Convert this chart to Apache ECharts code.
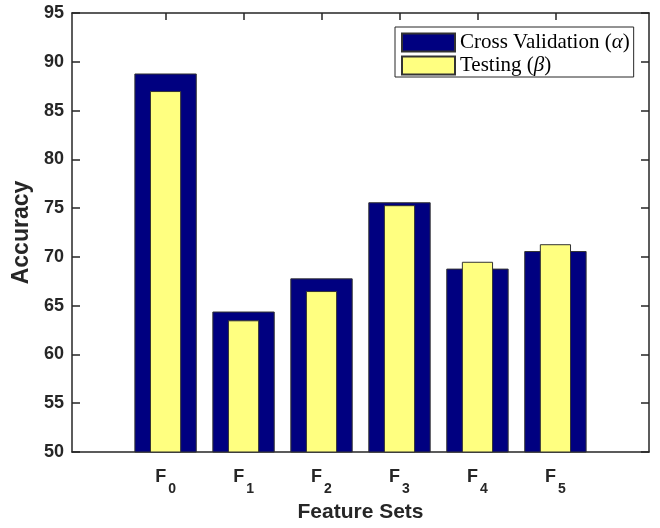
<!DOCTYPE html>
<html>
<head>
<meta charset="utf-8">
<script src="https://cdn.jsdelivr.net/npm/echarts@6/dist/echarts.min.js"></script>
<style>
html,body{margin:0;padding:0;background:#fff;}
#chart{width:660px;height:528px;}
</style>
</head>
<body>
<div id="chart"></div>
<script>
const categories = ['F0', 'F1', 'F2', 'F3', 'F4', 'F5'];
const crossValidation = [88.8, 64.4, 67.8, 75.6, 68.8, 70.6];
const testing = [87.0, 63.5, 66.5, 75.3, 69.5, 71.3];
const yTicks = [50, 55, 60, 65, 70, 75, 80, 85, 90, 95];

const axisColor = '#262626';
const positions = categories.map((c, i) => i);
const xMin = -1.2, xMax = 6.2;
const gridLeft = 72, gridRight = 11, gridTop = 13, gridBottom = 75;
const unitPx = (660 - gridLeft - gridRight) / (xMax - xMin);

const chart = echarts.init(document.getElementById('chart'), null, {renderer: 'canvas'});

const xAxisCommon = {
  type: 'value',
  min: xMin,
  max: xMax,
  splitLine: {show: false},
  axisLine: {show: true, onZero: false, lineStyle: {color: axisColor, width: 1.5}},
  axisTick: {show: true, inside: true, length: 7, customValues: positions, lineStyle: {color: axisColor, width: 1.5}}
};
const yAxisCommon = {
  type: 'value',
  min: yTicks[0],
  max: yTicks[yTicks.length - 1],
  interval: 5,
  splitLine: {show: false},
  axisLine: {show: true, onZero: false, lineStyle: {color: axisColor, width: 1.5}},
  axisTick: {show: true, inside: true, length: 8, lineStyle: {color: axisColor, width: 1.5}}
};

chart.setOption({
  animation: false,
  backgroundColor: '#ffffff',
  grid: {left: gridLeft, right: gridRight, top: gridTop, bottom: gridBottom, containLabel: false},
  legend: {
    show: true,
    orient: 'vertical',
    left: 395,
    top: 27,
    padding: [5, 4, 1, 6],
    itemWidth: 53,
    itemHeight: 18,
    itemGap: 2,
    icon: 'rect',
    backgroundColor: '#ffffff',
    borderColor: axisColor,
    borderWidth: 1,
    data: ['Cross Validation', 'Testing'],
    formatter: function (name) {
      return name === 'Testing' ? '{n|Testing (}{g|β}{n|)}' : '{n|Cross Validation (}{g|α}{n|)}';
    },
    textStyle: {
      fontFamily: 'Liberation Serif',
      fontSize: 21,
      color: '#000',
      lineHeight: 18,
      rich: {
        n: {fontFamily: 'Liberation Serif', fontSize: 21, color: '#000', lineHeight: 18},
        g: {fontFamily: 'Liberation Serif', fontStyle: 'italic', fontSize: 21, color: '#000', lineHeight: 18}
      }
    }
  },
  xAxis: [
    Object.assign({}, xAxisCommon, {
      position: 'bottom',
      name: 'Feature Sets',
      nameLocation: 'middle',
      nameGap: 50,
      nameTextStyle: {fontFamily: 'Liberation Sans', fontWeight: 'bold', fontSize: 21, color: axisColor},
      axisLabel: {
        show: true,
        margin: 16,
        customValues: positions,
        formatter: function (v) {
          const c = categories[Math.round(v)] || '';
          return '{f|' + c.charAt(0) + '}{s|' + c.slice(1) + '}';
        },
        rich: {
          f: {fontFamily: 'Liberation Sans', fontWeight: 'bold', fontSize: 18, lineHeight: 18, color: axisColor, verticalAlign: 'top'},
          s: {fontFamily: 'Liberation Sans', fontWeight: 'bold', fontSize: 14, lineHeight: 14, color: axisColor, verticalAlign: 'top', padding: [14, 0, 0, 2]}
        }
      }
    }),
    Object.assign({}, xAxisCommon, {
      position: 'top',
      axisLabel: {show: false}
    })
  ],
  yAxis: [
    Object.assign({}, yAxisCommon, {
      position: 'left',
      name: 'Accuracy',
      nameLocation: 'middle',
      nameGap: 38,
      nameTextStyle: {fontFamily: 'Liberation Sans', fontWeight: 'bold', fontSize: 23, color: axisColor},
      axisLabel: {show: true, margin: 8, fontFamily: 'Liberation Sans', fontWeight: 'bold', fontSize: 18, color: axisColor}
    }),
    Object.assign({}, yAxisCommon, {
      position: 'right',
      axisLabel: {show: false}
    })
  ],
  series: [
    {
      name: 'Cross Validation',
      type: 'bar',
      xAxisIndex: 0,
      yAxisIndex: 0,
      barWidth: unitPx * 0.8,
      itemStyle: {color: '#000080', borderColor: '#333333', borderWidth: 1},
      data: positions.map((p, i) => [p, crossValidation[i]])
    },
    {
      name: 'Testing',
      type: 'bar',
      xAxisIndex: 1,
      yAxisIndex: 0,
      barWidth: unitPx * 0.4,
      itemStyle: {color: '#ffff80', borderColor: '#333333', borderWidth: 1},
      data: positions.map((p, i) => [p, testing[i]])
    }
  ]
});
</script>
</body>
</html>
